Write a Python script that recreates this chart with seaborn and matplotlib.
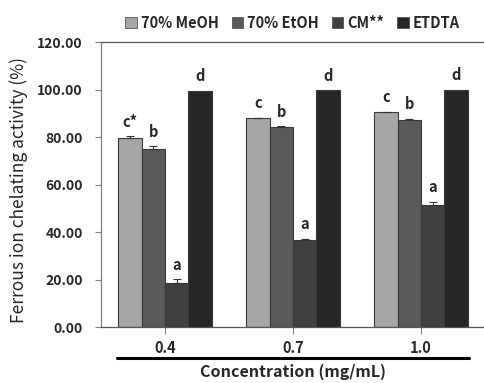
import pandas as pd
import matplotlib.pyplot as plt
import seaborn as sns
from matplotlib.lines import Line2D

# ===== DATA =====
concentrations = ["0.4", "0.7", "1.0"]
solvents = ["70% MeOH", "70% EtOH", "CM**", "ETDTA"]

meoh = [79.7, 87.9, 90.4]
etoh = [74.8, 84.3, 87.2]
cm = [18.7, 36.8, 51.6]
etdta = [99.4, 99.7, 100.0]

meoh_err = [0.6, 0.3, 0.3]
etoh_err = [1.4, 0.3, 0.6]
cm_err = [1.5, 0.4, 1.2]
etdta_err = [0.0, 0.0, 0.0]

meoh_lbl = ["c*", "c", "c"]
etoh_lbl = ["b", "b", "b"]
cm_lbl = ["a", "a", "a"]
etdta_lbl = ["d", "d", "d"]

colors = ["#a6a6a6", "#595959", "#404040", "#262626"]

values = [meoh, etoh, cm, etdta]
errors = [meoh_err, etoh_err, cm_err, etdta_err]
letters = [meoh_lbl, etoh_lbl, cm_lbl, etdta_lbl]

rows = []
for s, vals in zip(solvents, values):
    for c, v in zip(concentrations, vals):
        rows.append({"Concentration": c, "Solvent": s, "Activity": v})
df = pd.DataFrame(rows)

# ===== STYLE =====
sns.set_style("white")
plt.rcParams['font.family'] = ['Noto Sans CJK KR', 'DejaVu Sans']

fig = plt.figure(figsize=(4.85, 3.83), dpi=100)
ax = fig.add_axes([0.208, 0.146, 0.792, 0.744])

sns.barplot(
    data=df,
    x="Concentration",
    y="Activity",
    hue="Solvent",
    order=concentrations,
    hue_order=solvents,
    palette=colors,
    width=0.73,
    errorbar=None,
    edgecolor="#3a3a3a",
    linewidth=0.8,
    legend=False,
    ax=ax
)

# ===== ERROR BARS + LETTERS =====
for cont, errs, lbls in zip(ax.containers, errors, letters):
    for bar, e, lbl in zip(cont, errs, lbls):
        xc = bar.get_x() + bar.get_width() / 2
        h = bar.get_height()
        if e > 0:
            ax.errorbar(xc, h, yerr=[[0], [e]], fmt='none',
                        ecolor="#333333", elinewidth=0.8,
                        capsize=3, capthick=0.8)
        ax.annotate(lbl, (xc, h + e), xytext=(0, 10.5),
                    textcoords='offset points', ha='center', va='center',
                    fontsize=10.5, fontweight='bold')

# ===== AXES =====
ax.set_xlim(-0.5, 2.5)
ax.set_ylim(0, 120)
ax.set_yticks(range(0, 121, 20))
ax.set_yticklabels([f"{v:.2f}" for v in range(0, 121, 20)],
                   fontsize=10, fontweight='bold')
ax.set_xticks(range(len(concentrations)))
ax.set_xticklabels(concentrations, fontsize=10.5, fontweight='bold')
ax.tick_params(axis='y', direction='out', length=4, width=0.8,
               color="#808080", left=True, pad=9)
ax.tick_params(axis='x', direction='out', length=5, width=0.8,
               color="#808080", bottom=True, pad=4)

for side in ["left", "bottom", "top"]:
    ax.spines[side].set_visible(True)
    ax.spines[side].set_linewidth(0.9)
ax.spines["left"].set_color("#808080")
ax.spines["bottom"].set_color("#555555")
ax.spines["top"].set_color("#555555")
ax.spines["right"].set_visible(False)

ax.set_ylabel("Ferrous ion chelating activity (%)", fontsize=12.5)
ax.yaxis.set_label_coords(-0.19, 0.48)
ax.set_xlabel("")

# thick line under the tick labels and the axis title
fig.add_artist(Line2D([0.241, 0.967], [0.065, 0.065], color="black",
                      linewidth=2.2, transform=fig.transFigure))
fig.text(0.604, 0.028, "Concentration (mg/mL)", ha='center', va='center',
         fontsize=11.5, fontweight='bold')

# ===== LEGEND =====
handles = [plt.Rectangle((0, 0), 1, 1, facecolor=c, edgecolor="#555555",
                         linewidth=0.6) for c in colors]
fig.legend(handles, solvents, loc='center', bbox_to_anchor=(0.603, 0.94),
           ncol=4, frameon=False, handlelength=0.8, handleheight=0.8,
           handletextpad=0.25, columnspacing=0.9,
           prop={'weight': 'bold', 'size': 10.5})

fig.savefig("out.png", dpi=100)
